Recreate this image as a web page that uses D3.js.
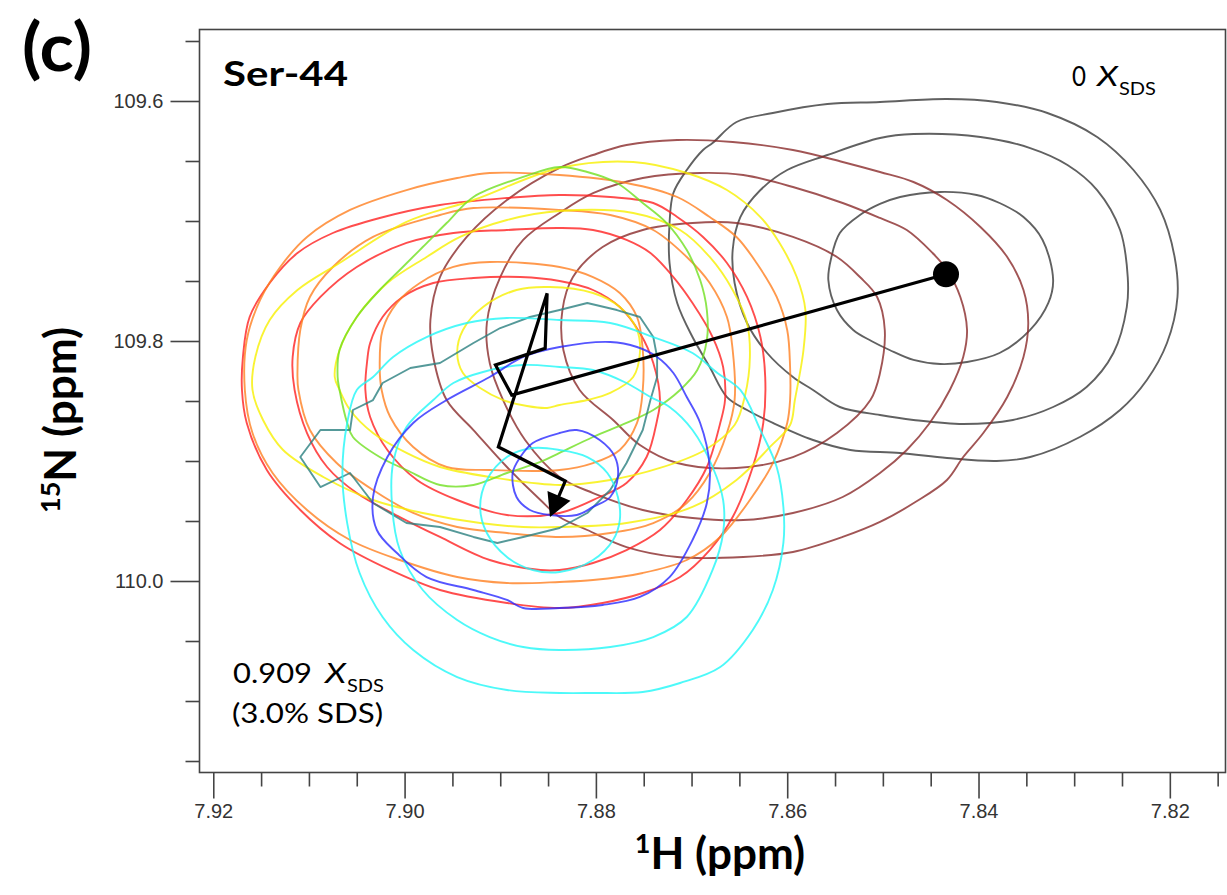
<!DOCTYPE html>
<html>
<head>
<meta charset="utf-8">
<script src="https://cdn.jsdelivr.net/npm/d3@7"></script>
<style>
  html, body { margin: 0; padding: 0; background: #fff; }
  svg { display: block; }
</style>
</head>
<body>
<svg id="chart" width="1227" height="895"></svg>
<script>
// ---------------- DATA (1H ppm, 15N ppm) ----------------
const hMajorTicks = [7.92, 7.90, 7.88, 7.86, 7.84, 7.82];
const hMinorTicks = [7.915, 7.91, 7.905, 7.895, 7.89, 7.885, 7.875, 7.87, 7.865, 7.855, 7.85, 7.845, 7.835, 7.83, 7.825, 7.815];
const nMajorTicks = [109.6, 109.8, 110.0];
const nMinorTicks = [109.55, 109.65, 109.7, 109.75, 109.85, 109.9, 109.95, 110.05, 110.1, 110.15];

// 0 X_SDS (black)
const black1 = [[7.8557,109.7492],[7.8554,109.7308],[7.8545,109.71],[7.8524,109.695],[7.8503,109.6858],[7.8482,109.68],[7.844,109.6758],[7.8402,109.6783],[7.8378,109.685],[7.8353,109.6967],[7.8333,109.7158],[7.8322,109.7492],[7.8327,109.7683],[7.8346,109.7908],[7.8378,109.81],[7.8412,109.8175],[7.844,109.8192],[7.8468,109.8158],[7.8493,109.8075],[7.8512,109.8],[7.8531,109.7908],[7.8548,109.7742]];
const black2 = [[7.8657,109.7242],[7.8649,109.6967],[7.8628,109.6742],[7.86,109.6575],[7.8558,109.645],[7.8503,109.6308],[7.8468,109.6275],[7.8398,109.63],[7.8346,109.6392],[7.8307,109.6533],[7.8276,109.6742],[7.8252,109.7075],[7.8244,109.7467],[7.8245,109.7717],[7.8259,109.81],[7.8287,109.8383],[7.8322,109.855],[7.8364,109.8658],[7.8416,109.8692],[7.8468,109.8658],[7.8503,109.8617],[7.8545,109.855],[7.8573,109.8408],[7.8594,109.83],[7.8621,109.81],[7.8642,109.785],[7.8655,109.7517]];
const black3 = [[7.8503,109.6008],[7.8433,109.5983],[7.8381,109.6008],[7.8328,109.61],[7.8276,109.63],[7.8238,109.6575],[7.821,109.6908],[7.8195,109.73],[7.8192,109.7633],[7.8203,109.8017],[7.8224,109.8325],[7.8252,109.8575],[7.8294,109.88],[7.8346,109.8967],[7.8381,109.9],[7.8433,109.8975],[7.8482,109.8933],[7.8534,109.8908],[7.8573,109.8825],[7.8615,109.8683],[7.8642,109.8575],[7.8663,109.8467],[7.8681,109.8217],[7.8699,109.7967],[7.8715,109.7683],[7.8723,109.735],[7.8723,109.7017],[7.8719,109.6767],[7.8705,109.6575],[7.8688,109.6408],[7.8678,109.635],[7.8653,109.6175],[7.8615,109.61],[7.8558,109.6025]];
// brown
const brown1 = [[7.8838,109.6558],[7.8803,109.645],[7.8768,109.6367],[7.8715,109.6325],[7.8657,109.6342],[7.8594,109.6408],[7.8542,109.6508],[7.8503,109.6592],[7.8468,109.6675],[7.8433,109.6825],[7.8398,109.705],[7.837,109.73],[7.8353,109.7575],[7.8348,109.785],[7.8353,109.8133],[7.837,109.8467],[7.8395,109.8767],[7.8416,109.8967],[7.8433,109.9158],[7.8466,109.9342],[7.8503,109.9508],[7.8542,109.9633],[7.8594,109.9758],[7.8646,109.98],[7.8715,109.98],[7.8768,109.9717],[7.8809,109.9575],[7.8838,109.9467],[7.8858,109.9325],[7.8893,109.905],[7.8928,109.8742],[7.8956,109.8492],[7.897,109.8133],[7.8973,109.7825],[7.8963,109.7467],[7.8935,109.7133],[7.8893,109.6825]];
const brown2 = [[7.8838,109.6933],[7.8803,109.6767],[7.8751,109.6642],[7.8691,109.66],[7.8646,109.6617],[7.8594,109.6717],[7.8542,109.685],[7.8503,109.6975],[7.8475,109.7075],[7.8448,109.7267],[7.8433,109.7408],[7.8419,109.7633],[7.8412,109.7908],[7.8416,109.8133],[7.843,109.8408],[7.8451,109.8683],[7.8475,109.8908],[7.8503,109.91],[7.8542,109.93],[7.8594,109.9433],[7.8646,109.9492],[7.8699,109.9475],[7.8751,109.9408],[7.8803,109.9267],[7.8838,109.9133],[7.8874,109.8825],[7.8897,109.8492],[7.8911,109.8183],[7.8914,109.785],[7.89,109.7467],[7.8876,109.7158]];
const brown3 = [[7.8824,109.7467],[7.8793,109.7217],[7.8751,109.7075],[7.8699,109.7017],[7.8653,109.7017],[7.8594,109.7133],[7.8548,109.73],[7.8524,109.7467],[7.8506,109.7633],[7.8498,109.7908],[7.8503,109.8267],[7.8513,109.8492],[7.8548,109.8767],[7.8594,109.8967],[7.8653,109.9058],[7.8715,109.9017],[7.8754,109.8867],[7.8782,109.8658],[7.8817,109.8408],[7.8834,109.8075],[7.8835,109.7742]];
// red
const red1 = [[7.8838,109.6783],[7.8785,109.68],[7.874,109.685],[7.8715,109.6967],[7.8688,109.7133],[7.8663,109.735],[7.8642,109.7633],[7.8628,109.7967],[7.8623,109.83],[7.8625,109.8683],[7.8636,109.905],[7.8657,109.9467],[7.8681,109.9742],[7.8712,109.9967],[7.8751,110.01],[7.8793,110.0183],[7.8838,110.0225],[7.8893,110.0183],[7.8963,110.0075],[7.9015,109.9908],[7.9068,109.9683],[7.9109,109.9408],[7.9144,109.9075],[7.9165,109.8683],[7.917,109.8408],[7.9169,109.8133],[7.9162,109.78],[7.9141,109.7517],[7.9112,109.7267],[7.9075,109.71],[7.9026,109.6975],[7.8963,109.6867],[7.8893,109.6808]];
const red2 = [[7.8838,109.7058],[7.8803,109.7075],[7.8768,109.7158],[7.8743,109.7267],[7.8719,109.7467],[7.8699,109.7683],[7.8678,109.7967],[7.8667,109.8217],[7.8665,109.8492],[7.867,109.8683],[7.8684,109.905],[7.8705,109.9325],[7.8733,109.9575],[7.8768,109.9742],[7.8803,109.985],[7.8838,109.9908],[7.8858,109.9908],[7.8911,109.9825],[7.8963,109.9633],[7.9005,109.9467],[7.905,109.9267],[7.9081,109.905],[7.9102,109.8767],[7.9115,109.8408],[7.9117,109.8133],[7.9109,109.785],[7.9088,109.7633],[7.905,109.7383],[7.8998,109.7183],[7.8949,109.71],[7.8893,109.7075]];
const red3 = [[7.8928,109.7475],[7.8879,109.7467],[7.8838,109.75],[7.8803,109.7575],[7.8775,109.7717],[7.8754,109.7933],[7.874,109.8183],[7.8733,109.8492],[7.8736,109.8658],[7.8747,109.8967],[7.8768,109.9183],[7.8796,109.93],[7.8838,109.9433],[7.8893,109.945],[7.8945,109.9325],[7.8987,109.9158],[7.9018,109.8908],[7.9036,109.8633],[7.9041,109.8408],[7.9039,109.8158],[7.9036,109.8017],[7.9023,109.78],[7.9002,109.7633],[7.897,109.7517]];
// orange
const orange1 = [[7.8838,109.6617],[7.8768,109.6683],[7.8715,109.68],[7.8681,109.6967],[7.8653,109.7133],[7.8632,109.735],[7.8611,109.7633],[7.86,109.7908],[7.8597,109.8217],[7.8597,109.8492],[7.86,109.8683],[7.8615,109.9017],[7.8639,109.9325],[7.867,109.9633],[7.8705,109.9825],[7.8751,109.9933],[7.8803,109.9992],[7.8838,110.0008],[7.8893,110.0017],[7.8945,109.9967],[7.9005,109.9825],[7.9057,109.9658],[7.9102,109.9408],[7.9138,109.91],[7.9159,109.8767],[7.9167,109.8408],[7.9165,109.7992],[7.9151,109.7658],[7.913,109.7383],[7.9102,109.7133],[7.9057,109.6908],[7.8998,109.6742],[7.8945,109.6642],[7.8911,109.66]];
const orange2 = [[7.8838,109.6908],[7.8785,109.695],[7.874,109.7075],[7.8705,109.73],[7.8681,109.7517],[7.8663,109.78],[7.8657,109.8075],[7.8655,109.8492],[7.8663,109.8767],[7.8681,109.91],[7.8705,109.935],[7.874,109.9517],[7.8785,109.96],[7.8838,109.9633],[7.8893,109.96],[7.8945,109.955],[7.8991,109.9433],[7.9033,109.9242],[7.9071,109.9017],[7.9099,109.8742],[7.9111,109.8408],[7.9112,109.8267],[7.9109,109.7908],[7.9099,109.7633],[7.9075,109.7383],[7.9033,109.7133],[7.8963,109.695],[7.8928,109.6892]];
const orange3 = [[7.8911,109.7342],[7.8838,109.7383],[7.8803,109.7467],[7.8775,109.76],[7.8757,109.78],[7.8751,109.8075],[7.8751,109.8408],[7.8757,109.8683],[7.8775,109.8908],[7.8803,109.9017],[7.8838,109.9075],[7.8911,109.9075],[7.8956,109.905],[7.8991,109.8883],[7.9015,109.8633],[7.9024,109.8408],[7.9026,109.8217],[7.9023,109.7908],[7.9008,109.7683],[7.8984,109.7517],[7.8949,109.7383]];
// yellow
const yellow1 = [[7.8838,109.6558],[7.8761,109.6508],[7.8705,109.66],[7.8663,109.6742],[7.8628,109.6967],[7.8608,109.7183],[7.859,109.7467],[7.8581,109.7742],[7.8583,109.8075],[7.8592,109.8492],[7.8597,109.87],[7.8618,109.8883],[7.8653,109.9158],[7.8699,109.9383],[7.8768,109.9517],[7.8838,109.955],[7.8876,109.955],[7.8921,109.9517],[7.8981,109.9433],[7.9033,109.9325],[7.9085,109.9133],[7.9127,109.8908],[7.9148,109.8658],[7.9159,109.8408],[7.9156,109.8133],[7.9141,109.7825],[7.9112,109.7575],[7.9068,109.735],[7.8998,109.7008],[7.8928,109.6825]];
const yellow2 = [[7.8838,109.6917],[7.8761,109.6933],[7.8712,109.7075],[7.8681,109.73],[7.8657,109.7575],[7.8642,109.785],[7.8639,109.8133],[7.8644,109.845],[7.8655,109.87],[7.8686,109.8908],[7.8733,109.9058],[7.8785,109.9158],[7.8838,109.92],[7.8911,109.9133],[7.8963,109.905],[7.8998,109.8933],[7.9033,109.8767],[7.9057,109.8575],[7.9068,109.8408],[7.9073,109.83],[7.9068,109.8075],[7.905,109.78],[7.9018,109.7517],[7.8977,109.73],[7.8942,109.7133],[7.8893,109.6992]];
const yellow3 = [[7.8918,109.7717],[7.8883,109.7575],[7.8848,109.755],[7.8803,109.76],[7.8775,109.7717],[7.8757,109.7908],[7.8754,109.81],[7.8761,109.83],[7.8785,109.8433],[7.8809,109.8492],[7.8838,109.8533],[7.8851,109.8558],[7.8872,109.8542],[7.8897,109.8492],[7.8921,109.8392],[7.8939,109.8267],[7.8945,109.81],[7.8939,109.7908]];
// green
const green1 = [[7.8876,109.6633],[7.8838,109.655],[7.8809,109.6592],[7.8778,109.6683],[7.8751,109.685],[7.8726,109.7017],[7.8705,109.7242],[7.8691,109.7492],[7.8684,109.7742],[7.8684,109.7992],[7.8694,109.8242],[7.8712,109.8408],[7.874,109.8575],[7.8768,109.8683],[7.8803,109.88],[7.8838,109.8933],[7.8858,109.9008],[7.8893,109.91],[7.8928,109.92],[7.8963,109.92],[7.8998,109.9075],[7.9026,109.8967],[7.9054,109.88],[7.906,109.8683],[7.9068,109.8408],[7.907,109.83],[7.9068,109.8075],[7.905,109.78],[7.9026,109.7575],[7.9005,109.7408],[7.8981,109.7217],[7.8956,109.7017],[7.8928,109.68]];
// teal
const teal1 = [[7.8838,109.7742],[7.8809,109.7683],[7.8778,109.7742],[7.8754,109.78],[7.874,109.7967],[7.8736,109.8133],[7.8736,109.83],[7.8743,109.8492],[7.8751,109.8742],[7.8768,109.9017],[7.8785,109.9242],[7.8809,109.9433],[7.8838,109.9558],[7.8876,109.9633],[7.8903,109.9683],[7.8928,109.9633],[7.8963,109.955],[7.8998,109.9517],[7.9033,109.935],[7.9057,109.91],[7.9088,109.9217],[7.9109,109.8967],[7.9088,109.8742],[7.9057,109.8742],[7.9054,109.8575],[7.9033,109.8492],[7.9023,109.835],[7.8994,109.8225],[7.8963,109.8183],[7.8928,109.8017],[7.89,109.7892],[7.8869,109.78]];
// cyan
const cyan1 = [[7.8838,109.7825],[7.8785,109.785],[7.874,109.7967],[7.8699,109.81],[7.8673,109.8267],[7.8649,109.8408],[7.8628,109.8742],[7.8611,109.905],[7.8604,109.9383],[7.8604,109.9683],[7.8615,110.0075],[7.8636,110.0408],[7.867,110.0717],[7.8712,110.085],[7.8751,110.0925],[7.8803,110.0933],[7.8838,110.0933],[7.8893,110.0908],[7.8945,110.08],[7.8991,110.0575],[7.9023,110.03],[7.9047,109.9933],[7.906,109.9517],[7.9065,109.91],[7.906,109.8683],[7.905,109.8408],[7.9033,109.83],[7.9012,109.8133],[7.8977,109.7967],[7.8935,109.785],[7.8893,109.7808]];
const cyan2 = [[7.8838,109.8217],[7.8803,109.8242],[7.8768,109.835],[7.8743,109.8467],[7.8723,109.855],[7.8699,109.8742],[7.8678,109.905],[7.8667,109.9325],[7.8667,109.96],[7.8678,109.9908],[7.8705,110.03],[7.874,110.0467],[7.8785,110.055],[7.8838,110.0575],[7.8876,110.055],[7.8911,110.0467],[7.8945,110.0325],[7.8981,110.0075],[7.9005,109.9742],[7.9013,109.9383],[7.9012,109.9017],[7.8998,109.8717],[7.897,109.8492],[7.8949,109.835],[7.8918,109.8258],[7.8876,109.82]];
const cyan3 = [[7.8838,109.8908],[7.8809,109.8967],[7.8788,109.91],[7.8777,109.93],[7.8775,109.9492],[7.8782,109.9658],[7.8803,109.9825],[7.8838,109.9925],[7.8866,109.9908],[7.8893,109.98],[7.8914,109.96],[7.8921,109.9383],[7.8914,109.9158],[7.8893,109.8967],[7.8866,109.8892]];
// blue
const blue1 = [[7.8838,109.805],[7.8785,109.8008],[7.8757,109.805],[7.8736,109.8133],[7.8719,109.8267],[7.8705,109.8467],[7.8691,109.8683],[7.8681,109.905],[7.8684,109.935],[7.8699,109.9658],[7.8723,109.9967],[7.8754,110.0133],[7.8793,110.02],[7.8838,110.0225],[7.8876,110.0225],[7.8893,110.0158],[7.8928,110.0075],[7.8977,109.9967],[7.9008,109.9767],[7.9029,109.9575],[7.9033,109.93],[7.9018,109.8967],[7.8991,109.8683],[7.8956,109.8492],[7.8911,109.83],[7.8876,109.8133]];
const blue2 = [[7.8838,109.8767],[7.882,109.8742],[7.8796,109.8825],[7.878,109.8967],[7.8777,109.9133],[7.8785,109.93],[7.8803,109.9383],[7.882,109.945],[7.8848,109.945],[7.8869,109.9408],[7.8883,109.93],[7.8887,109.91],[7.8879,109.8967],[7.8866,109.885]];

// peak trajectory (0 X_SDS -> 0.909 X_SDS)
const trajectory = [[7.8434,109.7444],[7.8888,109.845],[7.8905,109.82],[7.8853,109.8061],[7.8851,109.7603],[7.8902,109.8883],[7.8832,109.9167],[7.8848,109.9467]];

// ---------------- STYLE ----------------
const contours = [
  {d: black1, c: "#3a3a3a"}, {d: black2, c: "#3a3a3a"}, {d: black3, c: "#3a3a3a"},
  {d: brown1, c: "#8a2a2a"}, {d: brown2, c: "#8a2a2a"}, {d: brown3, c: "#8a2a2a"},
  {d: red1, c: "#ff2020"}, {d: red2, c: "#ff2020"}, {d: red3, c: "#ff2020"},
  {d: orange1, c: "#ff8020"}, {d: orange2, c: "#ff8020"}, {d: orange3, c: "#ff8020"},
  {d: yellow1, c: "#f8f000"}, {d: yellow2, c: "#f8f000"}, {d: yellow3, c: "#f8f000"},
  {d: green1, c: "#70e020"},
  {d: teal1, c: "#2a8080", lin: true},
  {d: cyan1, c: "#20f8f8"}, {d: cyan2, c: "#20f8f8"}, {d: cyan3, c: "#20f8f8"},
  {d: blue1, c: "#2a2aff"}, {d: blue2, c: "#2a2aff"}
];

const svg = d3.select("#chart");
const L = 199.5, R = 1225.5, T = 29.5, B = 772.5;
const x = d3.scaleLinear().domain([7.92144, 7.81418]).range([L, R]);
const y = d3.scaleLinear().domain([109.54042, 110.15958]).range([T, B]);

const tickFont = "'Liberation Sans', Arial, sans-serif";
const labFont = "Lato, 'Open Sans', sans-serif";

svg.append("defs").append("clipPath").attr("id", "clip")
  .append("rect").attr("x", L).attr("y", T).attr("width", R - L).attr("height", B - T);

const plot = svg.append("g").attr("clip-path", "url(#clip)");

const lineSmooth = d3.line().x(d => x(d[0])).y(d => y(d[1])).curve(d3.curveCatmullRomClosed.alpha(0.5));
const lineLin = d3.line().x(d => x(d[0])).y(d => y(d[1])).curve(d3.curveLinearClosed);

plot.selectAll("path.contour").data(contours).enter().append("path")
  .attr("class", "contour")
  .attr("d", d => (d.lin ? lineLin : lineSmooth)(d.d))
  .attr("fill", "none")
  .attr("stroke", d => d.c)
  .attr("stroke-opacity", 0.8)
  .attr("stroke-width", 1.9)
  .attr("stroke-linejoin", "round");

// trajectory
const tp = trajectory.map(d => [x(d[0]), y(d[1])]);
const n = tp.length;
const tip = tp[n - 1], prev = tp[n - 2];
const dx = tip[0] - prev[0], dy = tip[1] - prev[1];
const len = Math.hypot(dx, dy);
const ux = dx / len, uy = dy / len;
const headLen = 23, headHalf = 12.5;
const base = [tip[0] - ux * headLen, tip[1] - uy * headLen];
const lineEnd = [tip[0] - ux * (headLen - 2), tip[1] - uy * (headLen - 2)];
const pathPts = tp.slice(0, n - 1).concat([lineEnd]);

plot.append("path")
  .attr("d", d3.line()(pathPts))
  .attr("fill", "none").attr("stroke", "#000").attr("stroke-width", 3.2)
  .attr("stroke-linejoin", "miter");
plot.append("path")
  .attr("d", d3.line()([[base[0] - uy * headHalf, base[1] + ux * headHalf], tip, [base[0] + uy * headHalf, base[1] - ux * headHalf]]) + "Z")
  .attr("fill", "#000");
plot.append("circle").attr("cx", tp[0][0]).attr("cy", tp[0][1]).attr("r", 13).attr("fill", "#000");

// frame
svg.append("rect").attr("x", L).attr("y", T).attr("width", R - L).attr("height", B - T)
  .attr("fill", "none").attr("stroke", "#444").attr("stroke-width", 1.6);

// axes
function styleAxis(g) {
  g.select(".domain").remove();
  g.selectAll(".tick line").attr("stroke", "#444").attr("stroke-width", 1.6);
  g.selectAll(".tick text").attr("fill", "#333").style("font-family", tickFont).style("font-size", "20px");
}
svg.append("g").attr("transform", `translate(0,${B})`)
  .call(d3.axisBottom(x).tickValues(hMinorTicks).tickSize(14).tickFormat(""))
  .call(styleAxis);
svg.append("g").attr("transform", `translate(0,${B})`)
  .call(d3.axisBottom(x).tickValues(hMajorTicks).tickSize(26).tickPadding(5).tickFormat(d3.format(".2f")))
  .call(styleAxis);
svg.append("g").attr("transform", `translate(${L},0)`)
  .call(d3.axisLeft(y).tickValues(nMinorTicks).tickSize(14).tickFormat(""))
  .call(styleAxis);
svg.append("g").attr("transform", `translate(${L},0)`)
  .call(d3.axisLeft(y).tickValues(nMajorTicks).tickSize(29).tickPadding(7).tickFormat(d3.format(".1f")))
  .call(styleAxis);

// axis titles
const xt = svg.append("text").attr("x", 720).attr("y", 869).attr("text-anchor", "middle")
  .style("font-family", labFont).style("font-weight", "bold").style("font-size", "44px").attr("fill", "#000");
xt.append("tspan").text("1").style("font-size", "27px").attr("dy", "-16");
xt.append("tspan").text("H (ppm)").attr("dy", "16");

const yt = svg.append("text").attr("transform", "translate(76,420) rotate(-90)").attr("text-anchor", "middle")
  .style("font-family", labFont).style("font-weight", "bold").style("font-size", "44px").attr("fill", "#000");
yt.append("tspan").text("15").style("font-size", "27px").attr("dy", "-16");
yt.append("tspan").text("N (ppm)").attr("dy", "16");

// panel label and residue
svg.append("text").attr("x", 22).attr("y", 71).text("(c)")
  .style("font-family", labFont).style("font-weight", "bold").style("font-size", "66px")
  .attr("textLength", 70).attr("lengthAdjust", "spacingAndGlyphs");
svg.append("text").attr("x", 223).attr("y", 86).text("Ser-44")
  .style("font-family", labFont).style("font-weight", "bold").style("font-size", "35px")
  .attr("textLength", 125).attr("lengthAdjust", "spacingAndGlyphs");

// annotations
function xsds(g, x0, base, numText, numW, xX, xS) {
  const t = g.append("text").attr("y", base).style("font-family", labFont).style("font-size", "27px").attr("fill", "#000");
  t.append("tspan").attr("x", x0).attr("textLength", numW).attr("lengthAdjust", "spacingAndGlyphs").text(numText);
  t.append("tspan").attr("x", xX).attr("textLength", 21).attr("lengthAdjust", "spacingAndGlyphs").style("font-style", "italic").text("X");
  t.append("tspan").attr("x", xS).attr("dy", 9).style("font-size", "18px").attr("textLength", 37).attr("lengthAdjust", "spacingAndGlyphs").text("SDS");
}
xsds(svg, 1072, 86, "0", 14, 1097, 1119);
xsds(svg, 233, 683, "0.909", 79, 325, 347);
svg.append("text").attr("x", 232).attr("y", 723).text("(3.0% SDS)")
  .style("font-family", labFont).style("font-size", "27px")
  .attr("textLength", 151).attr("lengthAdjust", "spacingAndGlyphs");
</script>
</body>
</html>
